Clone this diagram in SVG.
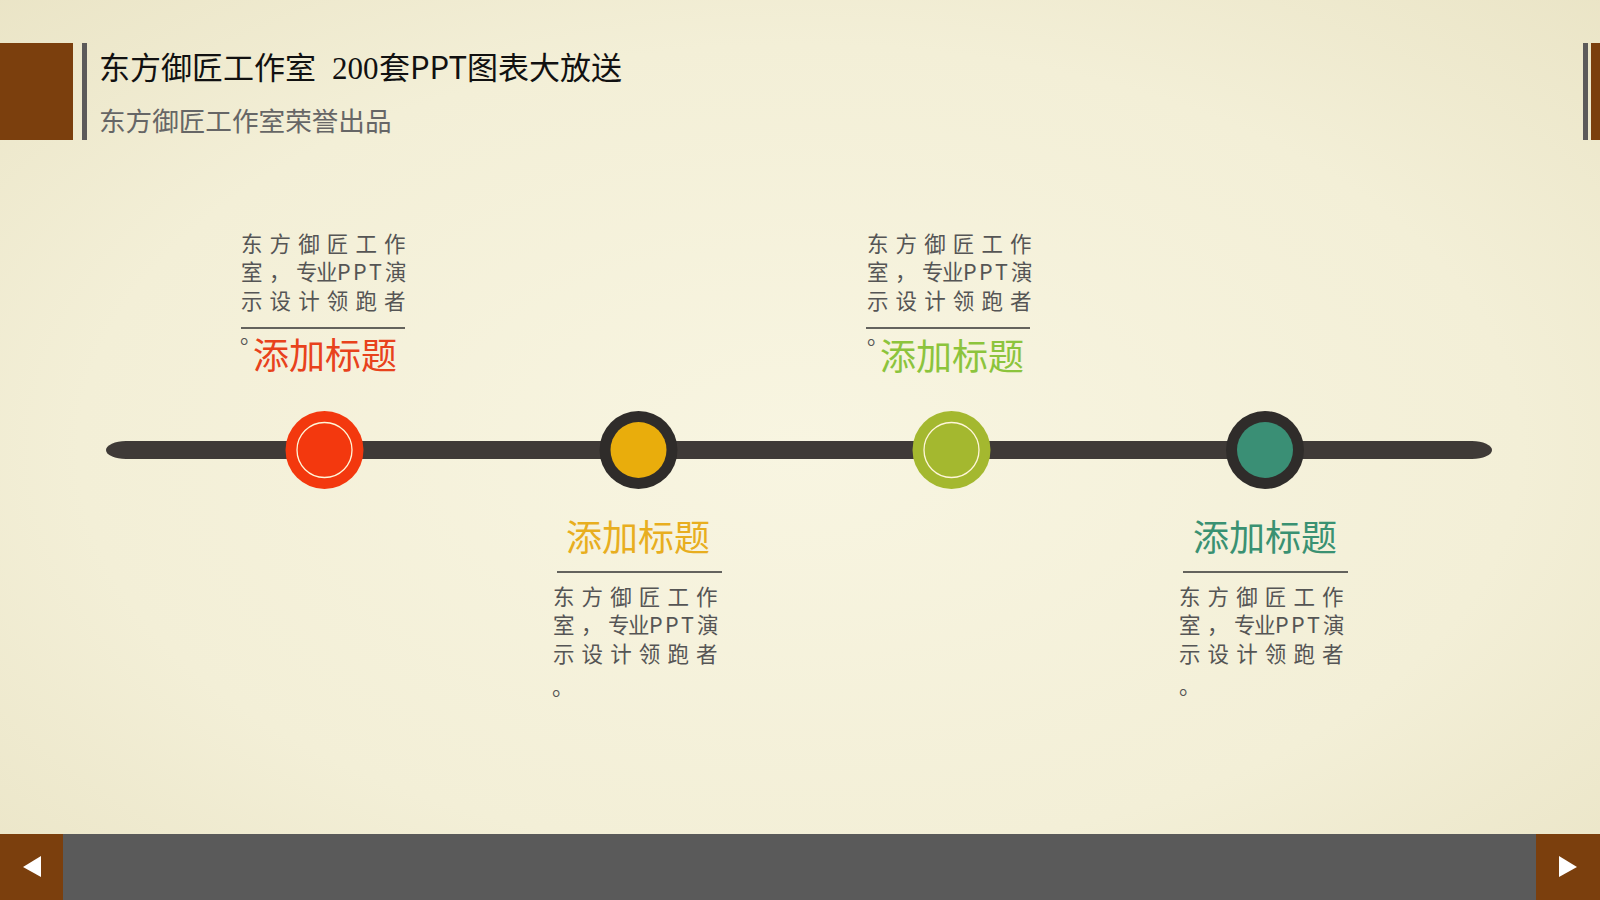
<svg xmlns="http://www.w3.org/2000/svg" width="1600" height="900" viewBox="0 0 1600 900">
<defs>
<radialGradient id="bg" cx="0.5" cy="0.5" r="0.75">
<stop offset="0" stop-color="#f8f5e1"/>
<stop offset="0.6" stop-color="#f3efd7"/>
<stop offset="1" stop-color="#e9e3c4"/>
</radialGradient>
<style>
.cjk{font-family:"Noto Sans CJK SC","Noto Sans",sans-serif}
.body{font-size:21.5px;fill:#555}
.ttl{font-size:36px;text-anchor:middle}
.sep{stroke:#333;stroke-width:1.5}
.ring{fill:#2f2c2a}
.thin{fill:none;stroke:#fff6d8;stroke-width:1.3}
.brown{fill:#7b3f0d}
.gbar{fill:#5c5a5a}
</style>
</defs>
<rect width="1600" height="900" fill="url(#bg)"/>

<g id="header">
<rect class="brown" x="0" y="43" width="73" height="97"/>
<rect class="gbar" x="82" y="43" width="5" height="97"/>
<rect class="gbar" x="1583" y="43" width="5" height="97"/>
<rect class="brown" x="1591" y="43" width="9" height="97"/>
<text class="cjk" y="79" font-size="31" fill="#111"><tspan x="99">东方御匠工作室 </tspan><tspan x="332" font-family="Liberation Serif, serif">200</tspan><tspan x="379">套PPT图表大放送</tspan></text>
<text class="cjk" x="99" y="131" font-size="26.6" fill="#666">东方御匠工作室荣誉出品</text>
</g>

<g id="connectors">
<rect x="106" y="441" width="1386" height="18" rx="20" ry="9" fill="#3f3a37"/>
</g>

<g id="node1">
<circle cx="324.5" cy="450" r="39" fill="#f3380e"/>
<circle class="thin" cx="324.5" cy="450" r="27.5"/>
<text class="cjk body" x="241 269.6 298.2 326.8 355.4 384" y="252">东方御匠工作</text>
<text class="cjk body" x="241 269 296 316 337 353 369 385" y="280">室，专业PPT演</text>
<text class="cjk body" x="241 269.6 298.2 326.8 355.4 384" y="309">示设计领跑者</text>
<line class="sep" x1="241" y1="328" x2="405" y2="328"/>
<text class="cjk body" x="240" y="343">。</text>
<text class="cjk ttl" x="325" y="369" fill="#e8421c">添加标题</text>
</g>

<g id="node2">
<circle class="ring" cx="638.5" cy="450" r="39"/>
<circle cx="638.5" cy="450" r="28" fill="#e9ad0c"/>
<text class="cjk ttl" x="638" y="551" fill="#e8ae1f">添加标题</text>
<line class="sep" x1="557" y1="572" x2="722" y2="572"/>
<text class="cjk body" x="553 581.6 610.2 638.8 667.4 696" y="605">东方御匠工作</text>
<text class="cjk body" x="553 581 608 628 649 665 681 697" y="633">室，专业PPT演</text>
<text class="cjk body" x="553 581.6 610.2 638.8 667.4 696" y="662">示设计领跑者</text>
<text class="cjk body" x="552" y="695">。</text>
</g>

<g id="node3">
<circle cx="951.5" cy="450" r="39" fill="#a4b82f"/>
<circle class="thin" cx="951.5" cy="450" r="27.5"/>
<text class="cjk body" x="867 895.6 924.2 952.8 981.4 1010" y="252">东方御匠工作</text>
<text class="cjk body" x="867 895 922 942 963 979 995 1011" y="280">室，专业PPT演</text>
<text class="cjk body" x="867 895.6 924.2 952.8 981.4 1010" y="309">示设计领跑者</text>
<line class="sep" x1="866" y1="328" x2="1030" y2="328"/>
<text class="cjk body" x="867" y="344">。</text>
<text class="cjk ttl" x="952" y="370" fill="#8cc43c">添加标题</text>
</g>

<g id="node4">
<circle class="ring" cx="1265" cy="450" r="39"/>
<circle cx="1265" cy="450" r="28" fill="#3a8f75"/>
<text class="cjk ttl" x="1265" y="551" fill="#3a9172">添加标题</text>
<line class="sep" x1="1183" y1="572" x2="1348" y2="572"/>
<text class="cjk body" x="1179 1207.6 1236.2 1264.8 1293.4 1322" y="605">东方御匠工作</text>
<text class="cjk body" x="1179 1207 1234 1254 1275 1291 1307 1323" y="633">室，专业PPT演</text>
<text class="cjk body" x="1179 1207.6 1236.2 1264.8 1293.4 1322" y="662">示设计领跑者</text>
<text class="cjk body" x="1179" y="694">。</text>
</g>

<g id="footer">
<rect x="0" y="834" width="1600" height="66" fill="#5a5a5a"/>
<rect class="brown" x="0" y="834" width="63" height="66"/>
<rect class="brown" x="1536" y="834" width="64" height="66"/>
<polygon points="23,867 41,856 41,877" fill="#fff"/>
<polygon points="1559,856 1559,877 1577,867" fill="#fff"/>
</g>
</svg>
